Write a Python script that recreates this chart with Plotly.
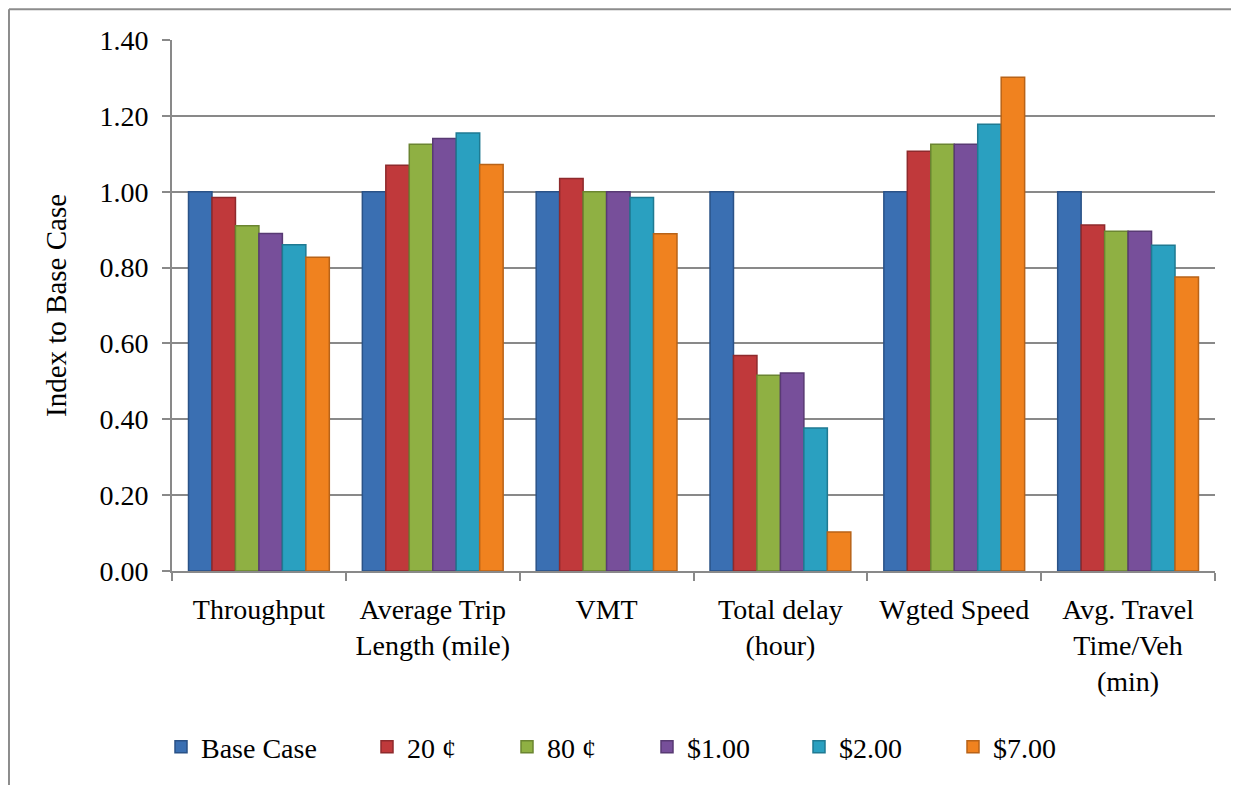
import plotly.graph_objects as go

categories = ["Throughput", "Average Trip<br>Length (mile)", "VMT", "Total delay<br>(hour)",
              "Wgted Speed", "Avg. Travel<br>Time/Veh<br>(min)"]
series_names = ["Base Case", "20 ¢", "80 ¢", "$1.00", "$2.00", "$7.00"]
base_case = [1.00, 1.00, 1.00, 1.00, 1.00, 1.00]
c20 = [0.985, 1.07, 1.035, 0.568, 1.107, 0.912]
c80 = [0.91, 1.125, 1.00, 0.516, 1.125, 0.896]
d100 = [0.89, 1.14, 1.00, 0.522, 1.125, 0.896]
d200 = [0.86, 1.155, 0.985, 0.377, 1.178, 0.859]
d700 = [0.827, 1.072, 0.889, 0.103, 1.302, 0.775]
values = [base_case, c20, c80, d100, d200, d700]

colors = ["#3a6fb2", "#c0393b", "#8fb043", "#774f9a", "#2aa0c0", "#f0821f"]
edges = ["#2a5287", "#8e2a2c", "#6b8531", "#583a73", "#1f7a92", "#b86318"]
legend_marker_px = [177, 383, 523, 663, 815, 969]

FONT = "Liberation Serif, Times New Roman, serif"
L, PW = 164, 1043

fig = go.Figure()
legend_layouts = {}
for i, (name, vals, col, ed) in enumerate(zip(series_names, values, colors, edges)):
    key = "legend" if i == 0 else f"legend{i + 1}"
    fig.add_trace(go.Bar(x=categories, y=vals, name=name, legend=key,
                         marker=dict(color=col, line=dict(color=ed, width=1.5))))
    legend_layouts[key] = dict(
        orientation="h", x=(legend_marker_px[i] - 24 - L) / PW, xanchor="left",
        y=-0.3315, yanchor="middle", font=dict(family=FONT, size=28),
        itemwidth=30, bgcolor="rgba(0,0,0,0)")

fig.update_layout(
    width=1231, height=777,
    margin=dict(l=L, r=24, t=32, b=214, autoexpand=False),
    paper_bgcolor="white", plot_bgcolor="white",
    barmode="group", bargap=0.19, bargroupgap=0,
    font=dict(family=FONT, size=28, color="black"),
    showlegend=True,
    xaxis=dict(showline=True, linecolor="#898989", linewidth=2, ticks="outside",
               tickson="boundaries", ticklen=8, tickcolor="#898989", tickwidth=2,
               showgrid=False, tickfont=dict(family=FONT, size=28), ticklabelstandoff=12),
    yaxis=dict(range=[0, 1.4], dtick=0.2, tickformat=".2f", showline=True,
               linecolor="#898989", linewidth=2, ticks="outside", ticklen=8,
               tickcolor="#898989", tickwidth=2, showgrid=True, gridcolor="#898989",
               gridwidth=2, zeroline=False, tickfont=dict(family=FONT, size=28),
               ticklabelstandoff=8,
               title=dict(text="Index to Base Case", font=dict(family=FONT, size=29),
                          standoff=24)),
    shapes=[
        dict(type="line", xref="paper", yref="paper", x0=-0.1563, x1=1.2, y0=1.058, y1=1.058,
             line=dict(color="#8c8c8c", width=2)),
        dict(type="line", xref="paper", yref="paper", x0=-0.1563, x1=-0.1563, y0=1.058, y1=-0.5,
             line=dict(color="#8c8c8c", width=2)),
    ],
    **legend_layouts,
)

fig.write_html("out.html")
